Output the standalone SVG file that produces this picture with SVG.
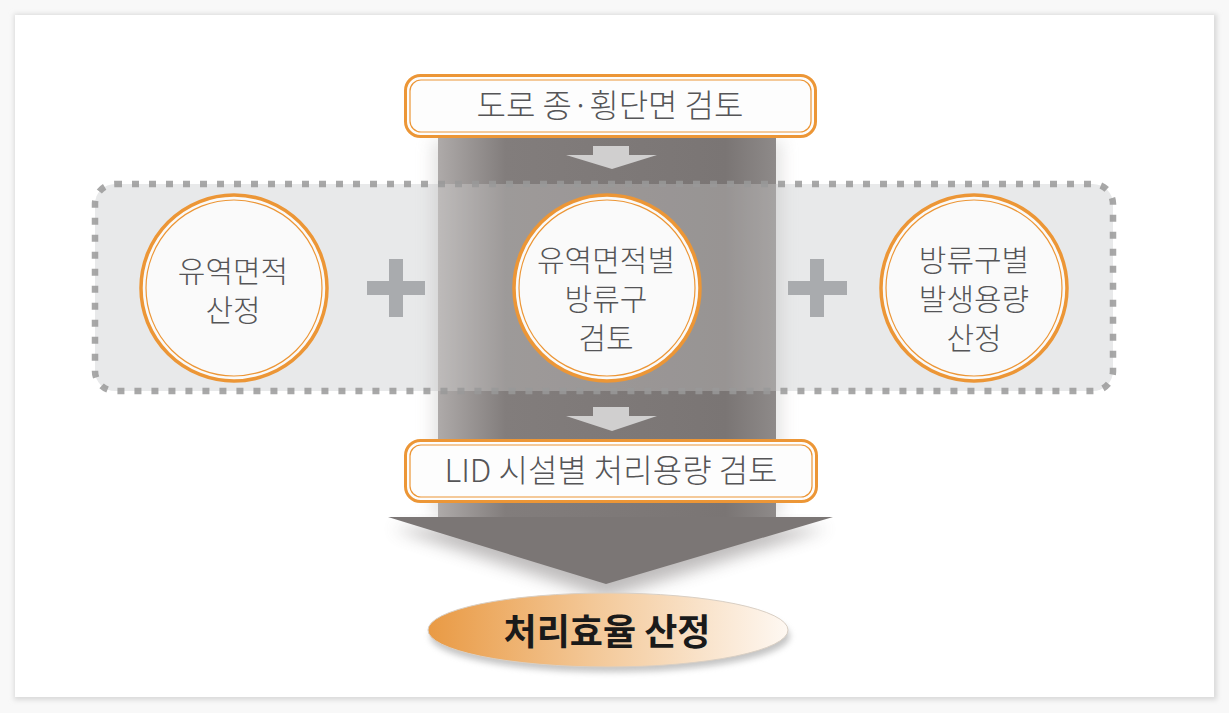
<svg xmlns="http://www.w3.org/2000/svg" width="1229" height="713" viewBox="0 0 1229 713">
  <defs>
    <style>
      .lbl { font-family: "Noto Sans CJK KR", "Noto Sans", sans-serif; font-size: 30px; font-weight: 300; fill: #555557; text-anchor: middle; }
      .boxlbl { font-family: "Noto Sans CJK KR", "Noto Sans", sans-serif; font-size: 32px; font-weight: 300; fill: #555557; text-anchor: middle; }
      .final { font-family: "Noto Sans CJK KR", "Noto Sans", sans-serif; font-size: 36px; font-weight: 700; fill: #1a1a1a; text-anchor: middle; }
      .ring-out { fill: #fafafa; stroke: #ec9636; stroke-width: 3.5; }
      .ring-in { fill: none; stroke: #ec9636; stroke-width: 1.2; }
      .box-out { fill: #fdfdfd; stroke: #ec9636; stroke-width: 3; }
      .box-in { fill: none; stroke: #ec9636; stroke-width: 1.2; }
      .plus { fill: #a9abae; }
      .small-arrow { fill: #d0cfcf; }
    </style>
    <linearGradient id="bandGrad" x1="0" y1="0" x2="1" y2="0">
      <stop offset="0" stop-color="#aeaaa9"/>
      <stop offset="0.2" stop-color="#827d7c"/>
      <stop offset="0.85" stop-color="#7a7574"/>
      <stop offset="1" stop-color="#8e8a89"/>
    </linearGradient>
    <linearGradient id="ellGrad" x1="0" y1="0" x2="1" y2="0">
      <stop offset="0" stop-color="#e99a44"/>
      <stop offset="0.45" stop-color="#f3c796"/>
      <stop offset="1" stop-color="#fef8f2"/>
    </linearGradient>
    <filter id="blur6" x="-20%" y="-20%" width="140%" height="160%">
      <feGaussianBlur stdDeviation="8"/>
    </filter>
    <filter id="blur3" x="-10%" y="-10%" width="120%" height="140%">
      <feGaussianBlur stdDeviation="3"/>
    </filter>
    <filter id="cardShadow" x="-5%" y="-5%" width="110%" height="110%">
      <feGaussianBlur stdDeviation="2.5"/>
    </filter>
  </defs>

  <rect x="0" y="0" width="1229" height="713" fill="#f8f8f8"/>
  <g id="card">
    <rect x="14" y="14" width="1203" height="686" fill="#d9d9d9" filter="url(#cardShadow)"/>
    <rect x="15" y="15" width="1199" height="682" fill="#ffffff"/>
  </g>

  <g id="group-box-fill">
    <rect x="95" y="184" width="1018" height="207" rx="20" fill="#e8e9ea"/>
  </g>

  <g id="connectors">
    <rect x="432" y="140" width="350" height="378" fill="#b5b2b1" opacity="0.35" filter="url(#blur6)"/>
    <polygon points="392,528 828,528 606,598" fill="#6f6b6a" opacity="0.45" filter="url(#blur6)"/>
    <rect x="438" y="120" width="338" height="398" fill="url(#bandGrad)"/>
    <polygon points="388,517 833,517 606,584" fill="#7b7675"/>
    <rect x="438" y="184" width="338" height="207" fill="#e8e9ea" opacity="0.27"/>
    <polygon class="small-arrow" points="593,146 629,146 629,155 657,155 612,169 566,155 593,155"/>
    <polygon class="small-arrow" points="593,407 629,407 629,416 657,416 612,431 566,416 593,416"/>
  </g>

  <g id="group-box-border">
    <rect x="95" y="184" width="1018" height="207" rx="20" fill="none" stroke="#999999" stroke-opacity="0.85" stroke-width="6.5" stroke-dasharray="7 10"/>
  </g>

  <g id="plus-left">
    <rect class="plus" x="367" y="281" width="58" height="14"/>
    <rect class="plus" x="389" y="259" width="14" height="58"/>
  </g>
  <g id="plus-right">
    <rect class="plus" x="788" y="281" width="59" height="14"/>
    <rect class="plus" x="810" y="259" width="14" height="58"/>
  </g>

  <g id="node-top">
    <rect class="box-out" x="405.5" y="75.5" width="410" height="61" rx="15"/>
    <rect class="box-in" x="410" y="80" width="401" height="52" rx="11"/>
    <text class="boxlbl" x="610" y="117">도로 종·횡단면 검토</text>
  </g>

  <g id="node-area">
    <circle class="ring-out" cx="234" cy="288" r="93"/>
    <circle class="ring-in" cx="234" cy="288" r="88"/>
    <text class="lbl" x="233" y="282"><tspan x="233" y="282">유역면적</tspan><tspan x="233" y="321">산정</tspan></text>
  </g>

  <g id="node-outlet">
    <circle class="ring-out" cx="607" cy="288" r="93"/>
    <circle class="ring-in" cx="607" cy="288" r="88"/>
    <text class="lbl" x="606" y="271"><tspan x="606" y="271">유역면적별</tspan><tspan x="606" y="310">방류구</tspan><tspan x="606" y="349">검토</tspan></text>
  </g>

  <g id="node-volume">
    <circle class="ring-out" cx="974" cy="288" r="93"/>
    <circle class="ring-in" cx="974" cy="288" r="88"/>
    <text class="lbl" x="974" y="271"><tspan x="974" y="271">방류구별</tspan><tspan x="974" y="310">발생용량</tspan><tspan x="974" y="349">산정</tspan></text>
  </g>

  <g id="node-lid">
    <rect class="box-out" x="405.5" y="440.5" width="411" height="61" rx="15"/>
    <rect class="box-in" x="410" y="445" width="402" height="52" rx="11"/>
    <text class="boxlbl" x="611" y="482">LID 시설별 처리용량 검토</text>
  </g>

  <g id="node-result">
    <ellipse cx="610" cy="636" rx="180" ry="36" fill="#8a8a8a" opacity="0.5" filter="url(#blur3)"/>
    <ellipse cx="608" cy="630" rx="180" ry="37" fill="url(#ellGrad)" stroke="#d9cfc4" stroke-width="1"/>
    <text class="final" x="607" y="645">처리효율 산정</text>
  </g>
</svg>
